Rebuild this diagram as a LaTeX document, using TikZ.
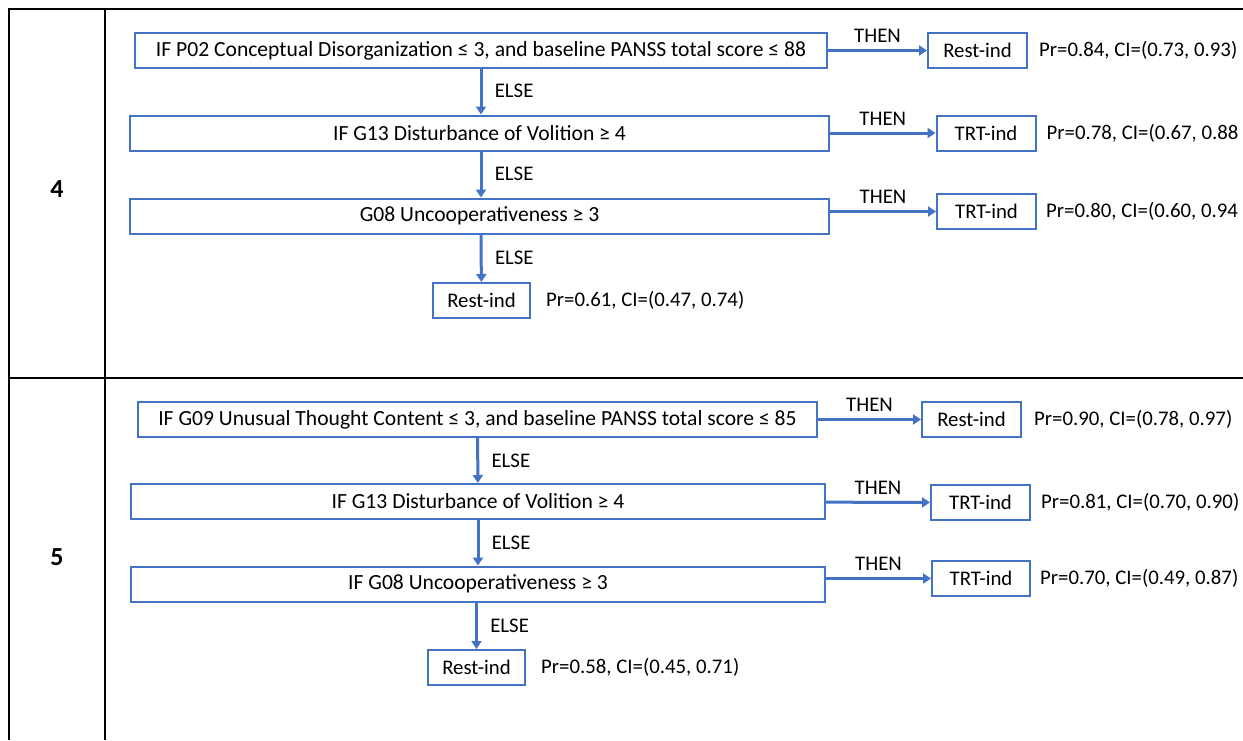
\documentclass[tikz,border=0pt]{standalone}
\usepackage{fontspec}
\setmainfont{Carlito}
\usetikzlibrary{positioning,arrows.meta}
\definecolor{ruleBlue}{HTML}{4472C4}

\begin{document}
\begin{tikzpicture}[x=1pt,y=-1pt,
  font=\fontsize{20.8}{24}\selectfont,
  condbox/.style={draw=ruleBlue,line width=2pt,minimum height=35pt,inner sep=0pt},
  rulebox/.style={condbox,font=\fontsize{21.6}{24}\selectfont},
  leafbox/.style={condbox,minimum width=99pt},
  flow/.style={ruleBlue,line width=3pt,-{Triangle[length=8pt,width=10pt]}},
  prtext/.style={anchor=west,inner sep=0pt},
  thenlbl/.style={midway,above=3pt,text=black},
  elselbl/.style={midway,right=9pt,text=black},
  grid/.style={black,line width=1.4pt}]
  \useasboundingbox (0,0) rectangle (1243,740);
  % table frame
  \draw[grid] (9,740) -- (9,9) -- (1243,9);
  \draw[grid] (105,9) -- (105,740);
  \draw[grid] (9,378) -- (1243,378);
  \node[font=\fontsize{26}{30}\selectfont\bfseries] (row4) at (57,189) {4};
  \node[font=\fontsize{26}{30}\selectfont\bfseries] (row5) at (57,557) {5};

  % rule set 4
  \node[rulebox,minimum width=692pt] (a1) at (481,50.5) {IF P02 Conceptual Disorganization ≤ 3, and baseline PANSS total score ≤ 88};
  \node[leafbox] (a1r) at (977.5,50.5) {Rest-ind};
  \node[prtext,right=11pt of a1r] (a1p) {Pr=0.84, CI=(0.73, 0.93)};
  \node[rulebox,minimum width=699pt] (a2) at (479.5,133) {IF G13 Disturbance of Volition ≥ 4};
  \node[leafbox] (a2r) at (986,133) {TRT-ind};
  \node[prtext,right=10pt of a2r] (a2p) {Pr=0.78, CI=(0.67, 0.88};
  \node[rulebox,minimum width=699pt] (a3) at (479.5,216) {G08 Uncooperativeness ≥ 3};
  \node[leafbox] (a3r) at (986.5,211.5) {TRT-ind};
  \node[prtext,right=9pt of a3r] (a3p) {Pr=0.80, CI=(0.60, 0.94};
  \node[leafbox,minimum width=97pt] (a4) at (481.5,300.5) {Rest-ind};
  \node[prtext,right=15pt of a4] (a4p) {Pr=0.61, CI=(0.47, 0.74)};

  \draw[flow] (a1) -- node[thenlbl] {THEN} (a1r);
  \draw[flow] (a2) -- node[thenlbl] {THEN} (a2r);
  \draw[flow] (a3r -| a3.east) -- node[thenlbl] {THEN} (a3r);
  \draw[flow] (481,68) -- node[elselbl] {ELSE} (a2.north -| 481,0);
  \draw[flow] (481,151) -- node[elselbl] {ELSE} (a3.north -| 481,0);
  \draw[flow] (481,234) -- node[elselbl] {ELSE} (a4);

  % rule set 5
  \node[rulebox,minimum width=679pt] (b1) at (477.5,419.5) {IF G09 Unusual Thought Content ≤ 3, and baseline PANSS total score ≤ 85};
  \node[leafbox] (b1r) at (971.5,419.5) {Rest-ind};
  \node[prtext,right=12pt of b1r] (b1p) {Pr=0.90, CI=(0.78, 0.97)};
  \node[rulebox,minimum width=694pt] (b2) at (478,501.5) {IF G13 Disturbance of Volition ≥ 4};
  \node[leafbox] (b2r) at (980.5,502.5) {TRT-ind};
  \node[prtext,right=10pt of b2r] (b2p) {Pr=0.81, CI=(0.70, 0.90)};
  \node[rulebox,minimum width=694pt] (b3) at (478,584) {IF G08 Uncooperativeness ≥ 3};
  \node[leafbox,minimum width=98pt] (b3r) at (981,578.5) {TRT-ind};
  \node[prtext,right=9pt of b3r] (b3p) {Pr=0.70, CI=(0.49, 0.87)};
  \node[leafbox,minimum width=97pt] (b4) at (476.5,667.5) {Rest-ind};
  \node[prtext,right=15pt of b4] (b4p) {Pr=0.58, CI=(0.45, 0.71)};

  \draw[flow] (b1) -- node[thenlbl] {THEN} (b1r);
  \draw[flow] (b2) -- node[thenlbl] {THEN} (b2r);
  \draw[flow] (b3r -| b3.east) -- node[thenlbl] {THEN} (b3r);
  \draw[flow] (b1) -- node[elselbl] {ELSE} (b2);
  \draw[flow] (b2) -- node[elselbl] {ELSE} (b3);
  \draw[flow] (b3.south -| b4) -- node[elselbl] {ELSE} (b4);
\end{tikzpicture}
\end{document}
